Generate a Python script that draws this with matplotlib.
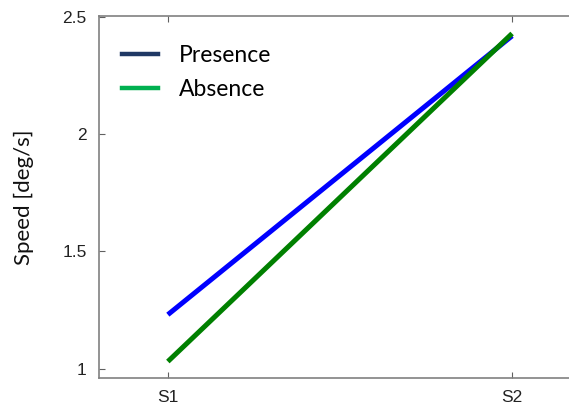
import matplotlib
matplotlib.use("Agg")
import matplotlib.pyplot as plt
from matplotlib.lines import Line2D

# speed per session
sessions = ["S1", "S2"]
presence = [1.23, 2.42]
absence = [1.03, 2.43]

fig = plt.figure(figsize=(5.69, 4.09), dpi=100)
ax = fig.add_axes([0.174, 0.076, 0.847, 0.885])

x = [1, 2]
ax.plot(x, presence, color="#0000ff", lw=3.6, solid_capstyle="butt")
ax.plot(x, absence, color="#008000", lw=3.6, solid_capstyle="butt")

ax.set_xlim(0.8, 2.2)
ax.set_ylim(0.96, 2.505)
ax.set_xticks(x)
ax.set_xticklabels(sessions)
ax.set_yticks([1, 1.5, 2, 2.5])
ax.set_yticklabels(["1", "1.5", "2", "2.5"])

for s in ax.spines.values():
    s.set_color("#808080")
    s.set_linewidth(1.2)
ax.tick_params(direction="in", top=True, right=False, length=4, width=0.8,
               color="#606060", labelsize=12.5, labelcolor="#222222", pad=9)
for lab in ax.get_xticklabels() + ax.get_yticklabels():
    lab.set_family("Liberation Sans")

ax.set_ylabel("Speed [deg/s]", fontsize=16, family="Lato", color="#111111", labelpad=20)

handles = [Line2D([], [], color="#1f3864", lw=3.2),
           Line2D([], [], color="#00b050", lw=3.2)]
ax.legend(handles, ["Presence", "Absence"], loc="upper left", frameon=False,
          prop={"family": "Lato", "size": 16.5}, handlelength=1.6,
          handletextpad=0.9, labelspacing=0.55, borderaxespad=0.8,
          bbox_to_anchor=(-0.01, 0.995))

fig.savefig("out.png", dpi=100)
